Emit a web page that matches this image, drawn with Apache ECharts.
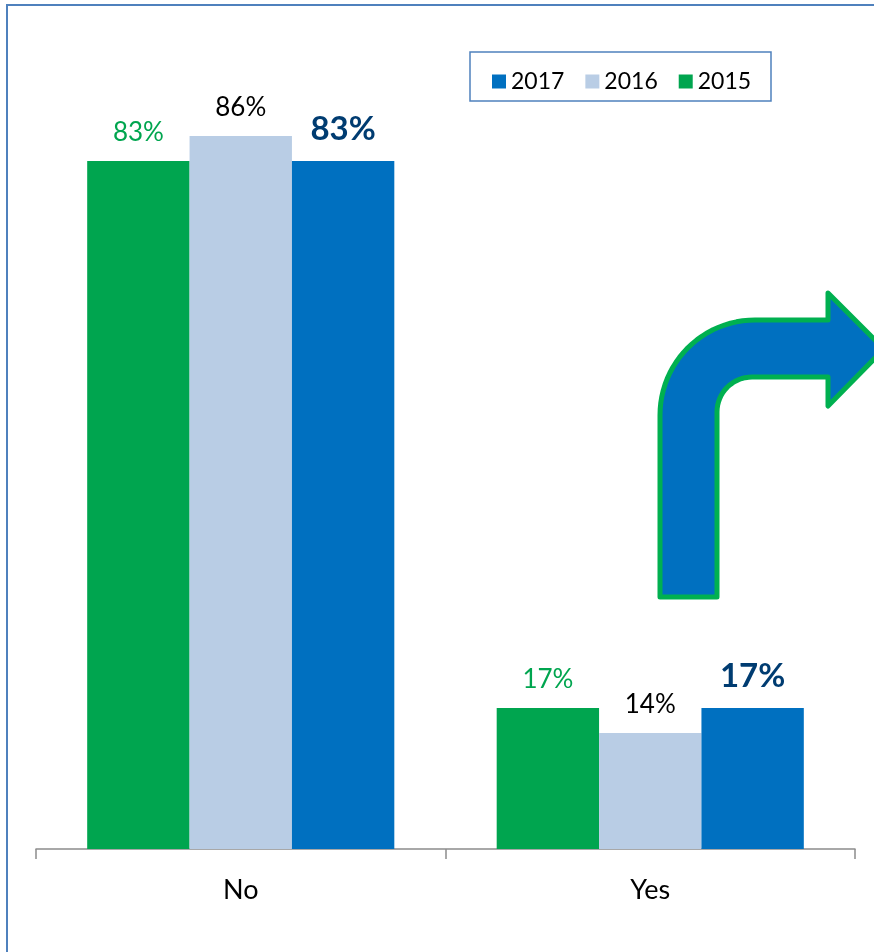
<!DOCTYPE html>
<html><head><meta charset="utf-8">
<script src="https://cdn.jsdelivr.net/npm/echarts@6/dist/echarts.min.js"></script>
<style>html,body{margin:0;padding:0;background:#fff}#c{width:874px;height:952px}</style>
</head><body><div id="c"></div>
<script>
const categories = ['No', 'Yes'];
const years = ['2015', '2016', '2017'];
const values2015 = [83, 17];
const values2016 = [86, 14];
const values2017 = [83, 17];
const legendOrder = ['2017', '2016', '2015'];

const FONT = 'Lato, "Open Sans", sans-serif';
const chart = echarts.init(document.getElementById('c'), null, {renderer: 'canvas'});

function mkSeries(name, data, color, labelStyle) {
  return {
    name: name, type: 'bar', data: data,
    barGap: 0, barCategoryGap: '25%',
    itemStyle: {color: color},
    label: Object.assign({show: true, position: 'top', formatter: '{c}%', fontFamily: FONT}, labelStyle)
  };
}

// decorative bent arrow outline
function arcPts(cx, cy, r, a0, a1, n) {
  const pts = [];
  for (let i = 0; i <= n; i++) {
    const a = (a0 + (a1 - a0) * i / n) * Math.PI / 180;
    pts.push([cx + r * Math.cos(a), cy + r * Math.sin(a)]);
  }
  return pts;
}
const arrowPts = [].concat(
  [[660, 597]],
  arcPts(755, 415, 95, 180, 270, 24),
  [[828, 320], [828, 293], [884, 349], [828, 406], [828, 377]],
  arcPts(752, 412, 35, 270, 180, 16),
  [[717, 597]]
);

chart.setOption({
  animation: false,
  backgroundColor: '#ffffff',
  grid: {left: 36, right: 19, top: 20, bottom: 103},
  legend: {
    data: legendOrder, left: 492, top: 70, padding: 0,
    itemWidth: 14, itemHeight: 14, itemGap: 21, icon: 'rect',
    textStyle: {fontFamily: FONT, fontSize: 23, color: '#000', lineHeight: 14}
  },
  xAxis: {
    type: 'category', data: categories,
    axisLine: {lineStyle: {color: '#8c8c8c', width: 1.5}},
    axisTick: {show: true, length: 10, lineStyle: {color: '#8c8c8c', width: 1.5}},
    axisLabel: {fontFamily: FONT, fontSize: 27, color: '#000', margin: 28}
  },
  yAxis: {
    type: 'value', min: 0, max: 100, show: false, splitLine: {show: false}
  },
  series: [
    mkSeries('2015', values2015, '#00A54F', {color: '#00A54F', fontSize: 26, distance: 15}),
    mkSeries('2016', values2016, '#B9CDE5', {color: '#000000', fontSize: 26, distance: 15}),
    mkSeries('2017', values2017, '#0070C0', {color: '#003C71', fontSize: 33, fontWeight: 'bold', distance: 15})
  ],
  graphic: [
    {type: 'rect', shape: {x: 470, y: 52, width: 301, height: 49},
     style: {fill: 'none', stroke: '#4F81BD', lineWidth: 1.5}, z: 100},
    {type: 'line', shape: {x1: 6, y1: 5, x2: 874, y2: 5}, style: {stroke: '#4F81BD', lineWidth: 2}, z: 100},
    {type: 'line', shape: {x1: 7, y1: 5, x2: 7, y2: 952}, style: {stroke: '#4F81BD', lineWidth: 2}, z: 100},
    {type: 'polygon', z: 100,
     shape: {points: arrowPts},
     style: {fill: '#0070C0', stroke: '#00B050', lineWidth: 5, lineJoin: 'round'}}
  ]
});
</script>
</body></html>
